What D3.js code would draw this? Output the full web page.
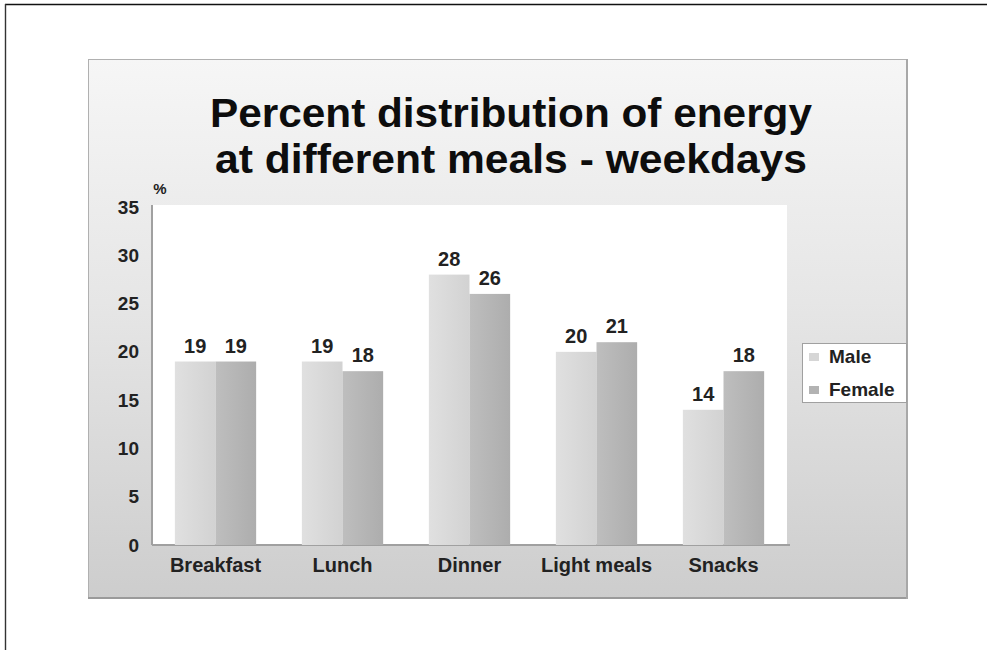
<!DOCTYPE html>
<html>
<head>
<meta charset="utf-8">
<script src="https://cdn.jsdelivr.net/npm/d3@7"></script>
<style>
  html, body { margin: 0; padding: 0; background: #fff; }
  svg { display: block; font-family: "Liberation Sans", Arial, sans-serif; }
</style>
</head>
<body>
<svg id="chart" width="987" height="650"></svg>
<script>
// Percent distribution of energy at different meals (weekdays), by sex
const categories = ["Breakfast", "Lunch", "Dinner", "Light meals", "Snacks"];
const seriesNames = ["Male", "Female"];
const maleValues = [19, 19, 28, 20, 14];
const femaleValues = [19, 18, 26, 21, 18];
const yTicks = [0, 5, 10, 15, 20, 25, 30, 35];
const titleLines = ["Percent distribution of energy", "at different meals - weekdays"];

const svg = d3.select("#chart");
const defs = svg.append("defs");

// Panel background: light at the top, fading to grey at the bottom
const bg = defs.append("linearGradient").attr("id", "panelGrad")
  .attr("x1", 0).attr("y1", 0).attr("x2", 0).attr("y2", 1);
bg.append("stop").attr("offset", "0%").attr("stop-color", "#f6f6f6");
bg.append("stop").attr("offset", "45%").attr("stop-color", "#e6e6e6");
bg.append("stop").attr("offset", "100%").attr("stop-color", "#cdcdcd");

// Bar fills with a faint horizontal shading
const fills = [["#e0e0e0", "#d2d2d2"], ["#bebebe", "#adadad"]];
fills.forEach((c, i) => {
  const g = defs.append("linearGradient").attr("id", "barGrad" + i)
    .attr("x1", 0).attr("y1", 0).attr("x2", 1).attr("y2", 0);
  g.append("stop").attr("offset", "0%").attr("stop-color", c[0]);
  g.append("stop").attr("offset", "100%").attr("stop-color", c[1]);
});
const swatchColors = ["#d6d6d6", "#b3b3b3"];

// Outer frame (top and left rules)
svg.append("line").attr("x1", 5).attr("x2", 987).attr("y1", 4.5).attr("y2", 4.5)
  .attr("stroke", "#111").attr("stroke-width", 1.4);
svg.append("line").attr("x1", 5.5).attr("x2", 5.5).attr("y1", 4).attr("y2", 650)
  .attr("stroke", "#333").attr("stroke-width", 1.4);

// Chart panel
const panel = { x: 88, y: 59, w: 820, h: 540 };
svg.append("rect").attr("x", panel.x).attr("y", panel.y)
  .attr("width", panel.w).attr("height", panel.h)
  .attr("fill", "url(#panelGrad)");
svg.append("rect").attr("x", panel.x + 0.5).attr("y", panel.y + 0.5)
  .attr("width", panel.w - 1).attr("height", panel.h - 1)
  .attr("fill", "none").attr("stroke", "#b0b0b0").attr("stroke-width", 1);
// darker lower and right edges
svg.append("line").attr("x1", panel.x).attr("x2", panel.x + panel.w)
  .attr("y1", panel.y + panel.h - 1).attr("y2", panel.y + panel.h - 1)
  .attr("stroke", "#9a9a9a").attr("stroke-width", 2);
svg.append("line").attr("x1", panel.x + panel.w - 1).attr("x2", panel.x + panel.w - 1)
  .attr("y1", panel.y).attr("y2", panel.y + panel.h)
  .attr("stroke", "#a8a8a8").attr("stroke-width", 2);

// Title
const titleWidths = [602, 592];
svg.append("g").selectAll("text").data(titleLines).join("text")
  .attr("x", 511).attr("y", (d, i) => 127 + i * 46)
  .attr("text-anchor", "middle")
  .attr("font-weight", "bold").attr("font-size", 41).attr("fill", "#0d0d0d")
  .attr("textLength", (d, i) => titleWidths[i]).attr("lengthAdjust", "spacingAndGlyphs")
  .text(d => d);

// Plot area
const plot = { left: 152, right: 787, top: 205, bottom: 545 };
const x0 = d3.scaleBand().domain(categories)
  .range([plot.left, plot.right]).paddingInner(0.36).paddingOuter(0.18);
const x1 = d3.scaleBand().domain(seriesNames).range([0, x0.bandwidth()]);
const y = d3.scaleLinear().domain([0, 35]).range([plot.bottom, 207]);

svg.append("rect").attr("x", plot.left).attr("y", plot.top)
  .attr("width", plot.right - plot.left).attr("height", plot.bottom - plot.top)
  .attr("fill", "#fff");

// Y axis
const yAxis = svg.append("g").attr("transform", `translate(${plot.left},0)`)
  .call(d3.axisLeft(y).tickValues(yTicks).tickSize(0).tickPadding(13));
yAxis.select(".domain").attr("stroke", "#a0a0a0").attr("stroke-width", 2)
  .attr("d", `M0,${plot.top}V${plot.bottom}`);
yAxis.selectAll("text").attr("font-size", 19).attr("font-weight", "bold")
  .attr("fill", "#222").attr("font-family", "Liberation Sans, Arial, sans-serif");

svg.append("text").attr("x", 160).attr("y", 194).attr("text-anchor", "middle")
  .attr("font-size", 15).attr("font-weight", "bold").attr("fill", "#222").text("%");

// X axis
const xAxis = svg.append("g").attr("transform", `translate(0,${plot.bottom})`)
  .call(d3.axisBottom(x0).tickSize(0).tickPadding(13));
xAxis.select(".domain").attr("stroke", "#a0a0a0").attr("stroke-width", 2)
  .attr("d", `M${plot.left},0H${plot.right + 3}`);
xAxis.selectAll("text").attr("font-size", 20).attr("font-weight", "bold")
  .attr("fill", "#222").attr("font-family", "Liberation Sans, Arial, sans-serif");

// Bars and value labels
const rows = categories.map((c, i) => ({ cat: c, vals: [maleValues[i], femaleValues[i]] }));
const groups = svg.append("g").selectAll("g").data(rows).join("g")
  .attr("transform", d => `translate(${x0(d.cat)},0)`);
groups.selectAll("rect").data(d => d.vals.map((v, j) => ({ s: seriesNames[j], v, j })))
  .join("rect")
  .attr("x", d => x1(d.s)).attr("width", x1.bandwidth())
  .attr("y", d => y(d.v)).attr("height", d => y(0) - y(d.v))
  .attr("fill", d => `url(#barGrad${d.j})`);
groups.selectAll("text").data(d => d.vals.map((v, j) => ({ s: seriesNames[j], v })))
  .join("text")
  .attr("x", d => x1(d.s) + x1.bandwidth() / 2).attr("y", d => y(d.v) - 9)
  .attr("text-anchor", "middle").attr("font-size", 20).attr("font-weight", "bold")
  .attr("fill", "#222").text(d => d.v);

// Legend
const legend = svg.append("g").attr("transform", "translate(802,343)");
legend.append("rect").attr("x", 0.5).attr("y", 0.5).attr("width", 104).attr("height", 59)
  .attr("fill", "#fff").attr("stroke", "#a0a0a0");
seriesNames.forEach((s, i) => {
  legend.append("rect").attr("x", 7).attr("y", 10 + i * 33).attr("width", 10).attr("height", 8)
    .attr("fill", swatchColors[i]);
  legend.append("text").attr("x", 27).attr("y", 20 + i * 33)
    .attr("font-size", 19).attr("font-weight", "bold").attr("fill", "#222").text(s);
});
</script>
</body>
</html>
